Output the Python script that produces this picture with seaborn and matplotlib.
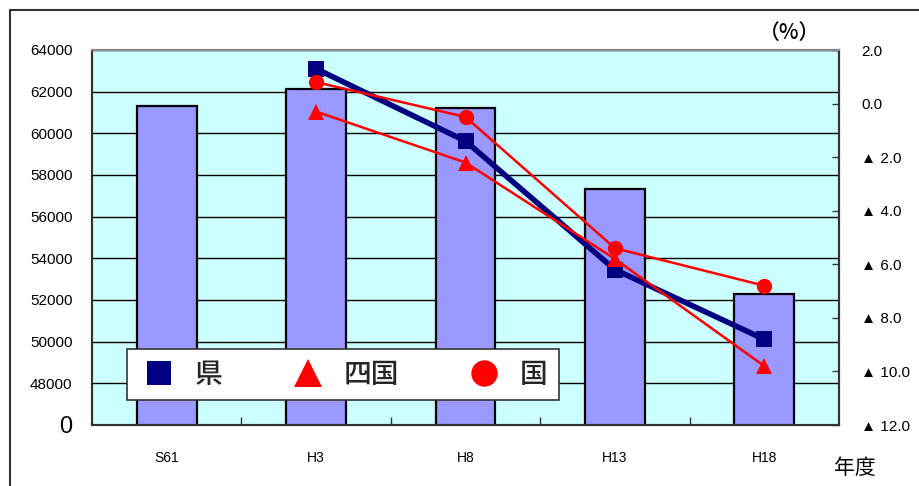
import matplotlib
matplotlib.use("Agg")
import matplotlib.pyplot as plt
from matplotlib.lines import Line2D
import seaborn as sns
import pandas as pd

# Population by survey year (left axis) and growth rates in % (right axis)
years = ["S61", "H3", "H8", "H13", "H18"]
population = [61300, 62150, 61200, 57350, 52300]
rate_years = ["H3", "H8", "H13", "H18"]
rate_pref = [1.3, -1.4, -6.2, -8.8]
rate_shikoku = [-0.3, -2.2, -5.8, -9.8]
rate_nation = [0.8, -0.5, -5.4, -6.8]
left_ticks = [46000, 48000, 50000, 52000, 54000, 56000, 58000, 60000, 62000, 64000]
left_labels = ["0", "48000", "50000", "52000", "54000", "56000", "58000", "60000", "62000", "64000"]
right_ticks = [2.0, 0.0, -2.0, -4.0, -6.0, -8.0, -10.0, -12.0]
right_labels = ["2.0", "0.0", "▲ 2.0", "▲ 4.0", "▲ 6.0", "▲ 8.0", "▲ 10.0", "▲ 12.0"]
legend_labels = ["県", "四国", "国"]

sns.set_theme(style="white")
plt.rcParams["font.family"] = ["Liberation Sans", "Noto Sans CJK JP", "DejaVu Sans"]

W, H = 919, 486
fig = plt.figure(figsize=(W / 100, H / 100), dpi=100)
fig.patch.set_facecolor("white")

# outer frame (top and left edges)
fig.add_artist(Line2D([10 / W, 1.0], [1 - 10 / H, 1 - 10 / H], transform=fig.transFigure,
                      color="#333333", lw=1.5))
fig.add_artist(Line2D([10 / W, 10 / W], [0.0, 1 - 10 / H], transform=fig.transFigure,
                      color="#333333", lw=1.5))

ax = fig.add_axes([92 / W, 1 - 425 / H, (839 - 92) / W, (425 - 50) / H])
ax.set_facecolor("#CCFFFF")

df = pd.DataFrame({"year": years, "pop": population})
sns.barplot(data=df, x="year", y="pop", order=years, width=0.4, color="#9999FF",
            saturation=1, edgecolor="black", linewidth=1.6, ax=ax)

ax.set_ylim(46000, 64000)
ax.set_xlim(-0.5, 4.5)
ax.set_yticks(left_ticks)
ax.set_yticklabels(left_labels)
ax.yaxis.grid(True, color="black", lw=1.0)
ax.set_axisbelow(True)
ax.tick_params(axis="y", length=0, pad=14, labelsize=11, labelcolor="black")
ax.get_yticklabels()[0].set_fontsize(17)
ax.set_xticks(range(len(years)))
ax.set_xticklabels(years)
ax.tick_params(axis="x", length=0, pad=19, labelsize=10, labelcolor="black")
ax.set_xticks([0.5, 1.5, 2.5, 3.5], minor=True)
ax.tick_params(axis="x", which="minor", direction="in", length=6, width=1, color="#333333", bottom=True)
ax.set_xlabel("")
ax.set_ylabel("")
for side in ["left", "bottom", "right"]:
    ax.spines[side].set_color("#333333")
    ax.spines[side].set_linewidth(1.5)
ax.spines["top"].set_color("#888888")
ax.spines["top"].set_linewidth(1.5)

ax2 = ax.twinx()
xpos = [years.index(y) for y in rate_years]
sns.lineplot(x=xpos, y=rate_pref, ax=ax2, color="#000080", lw=4, marker="s",
             markersize=11, markeredgecolor="#000080", markeredgewidth=0)
sns.lineplot(x=xpos, y=rate_shikoku, ax=ax2, color="#FF0000", lw=1.8, marker="^",
             markersize=12, markeredgecolor="#FF0000", markeredgewidth=0)
sns.lineplot(x=xpos, y=rate_nation, ax=ax2, color="#FF0000", lw=1.8, marker="o",
             markersize=11, markeredgecolor="#FF0000", markeredgewidth=0)
ax2.set_ylim(-12, 2)
ax2.set_xlim(-0.5, 4.5)
ax2.set_yticks(right_ticks)
ax2.set_yticklabels(right_labels)
ax2.tick_params(axis="y", direction="in", length=5, width=1, color="#333333",
                pad=16, labelsize=11, labelcolor="black")
ax2.set_ylabel("")
for side in ["left", "bottom", "right"]:
    ax2.spines[side].set_color("#333333")
    ax2.spines[side].set_linewidth(1.5)
ax2.spines["top"].set_color("#888888")
ax2.spines["top"].set_linewidth(1.5)

handles = [
    Line2D([], [], ls="none", marker="s", color="#000080", markersize=17, markeredgewidth=0),
    Line2D([], [], ls="none", marker="^", color="#FF0000", markersize=20, markeredgewidth=0),
    Line2D([], [], ls="none", marker="o", color="#FF0000", markersize=19, markeredgewidth=0),
]
leg = ax2.legend(handles, legend_labels, loc="upper left",
                 bbox_to_anchor=(127 / W, 1 - 349 / H), bbox_transform=fig.transFigure,
                 ncol=3, prop={"family": ["Noto Sans CJK JP"], "size": 20, "weight": "medium"},
                 frameon=True, fancybox=False, framealpha=1, edgecolor="#333333",
                 borderpad=0.4, handlelength=1.5, handletextpad=0.55,
                 columnspacing=2.3, borderaxespad=0)
leg.get_frame().set_linewidth(1.2)
leg.set_zorder(10)

fig.text(790 / W, 1 - 33 / H, "（%）", ha="center", va="center", fontsize=15,
         family=["Noto Sans CJK JP"], weight="medium", color="black")
fig.text(855 / W, 1 - 468 / H, "年度", ha="center", va="center", fontsize=15,
         family=["Noto Sans CJK JP"], color="black")

fig.savefig("out.png", dpi=100)
